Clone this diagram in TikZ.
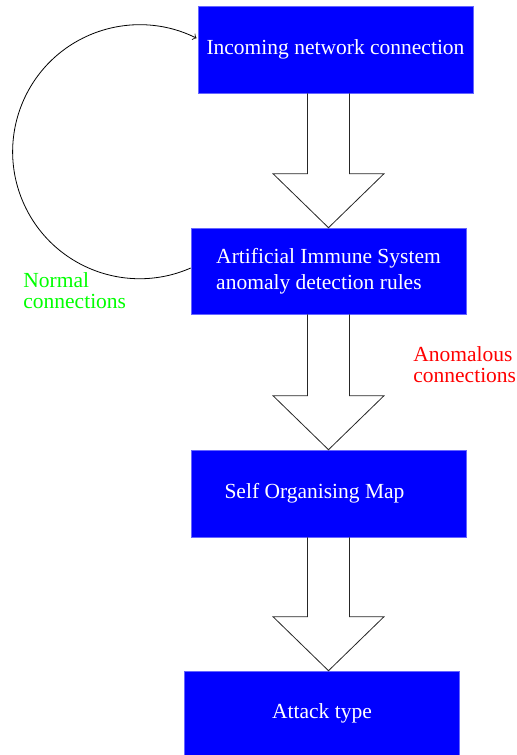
\documentclass[tikz,border=0pt]{standalone}
\usepackage{fontspec}
\setmainfont{Liberation Serif}
\usepackage{tikz}
\usetikzlibrary{calc}
\definecolor{boxblue}{RGB}{0,0,255}
\definecolor{normgreen}{RGB}{0,255,0}
\definecolor{anomred}{RGB}{255,0,0}

\tikzset{
  stagebox/.style={fill=boxblue, draw=boxblue!60!white, line width=0.3pt, text=white,
    minimum width=137.5pt, minimum height=43.5pt, inner sep=0pt, align=left,
    font=\fontsize{10.75}{13}\selectfont},
  flowlabel/.style={anchor=north west, align=left, inner sep=0pt,
    font=\fontsize{10.75}{10.5}\selectfont},
  arrowline/.style={draw=black!85, line width=0.4pt}
}

% hollow block arrow, centred on the AIS column
\newcommand{\blockarrow}[2]{%
  \draw[arrowline] ($(ais.center |- #1.south)+(-21,0)$) -- ($(ais.center |- #2.north)+(-21,-54)$)
    -- ++(-34.5,0) -- (ais.center |- #2.north) -- ++(55.5,-54) -- ++(-34.5,0)
    -- ($(ais.center |- #1.south)+(21,0)$);}

\begin{document}
\begin{tikzpicture}[x=0.5pt, y=-0.5pt]
\useasboundingbox (0,0) rectangle (516,755);

% stages
\node[stagebox, minimum height=43.5pt] (incoming) at (335.5,49.5) {Incoming network connection};
\node[stagebox, minimum height=43pt] (ais) at (328.5,271) {Artificial Immune System\\anomaly detection rules};
\node[stagebox] (som) at (328.5,493.5) {Self Organising Map\hspace*{14pt}};
\node[stagebox, minimum height=42pt] (attack) at (322,713) {Attack type};

% block arrows
\blockarrow{incoming}{ais}
\blockarrow{ais}{som}
\blockarrow{som}{attack}

% loop back for normal traffic
\draw[black, line width=0.4pt, ->] ($(ais.west)+(0,-3)$) arc[start angle=-66.3, end angle=-296.6, radius=63.5pt];

% labels
\node[flowlabel, text=normgreen] (normal) at (23,272) {Normal\\connections};
\node[flowlabel, text=anomred] (anomalous) at (413,346) {Anomalous\\connections};

\end{tikzpicture}
\end{document}
